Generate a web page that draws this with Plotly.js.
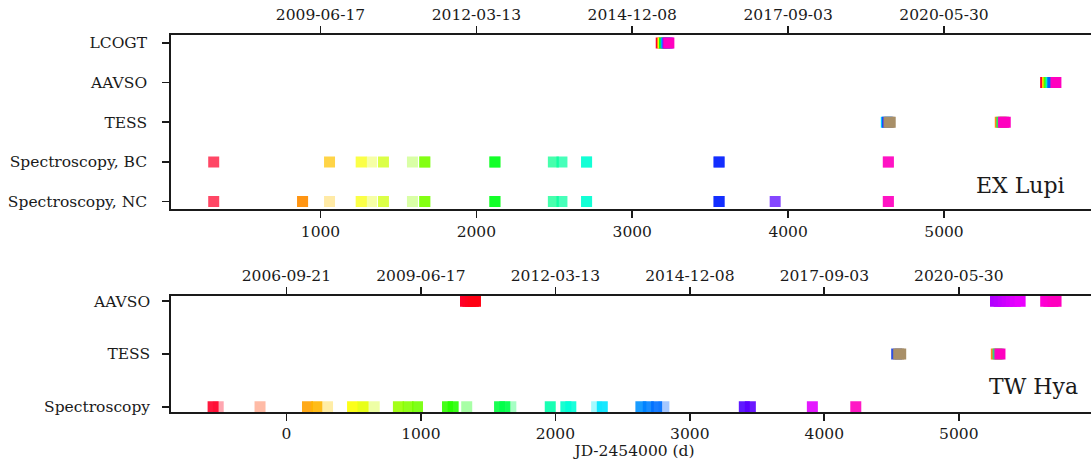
<!DOCTYPE html>
<html>
<head>
<meta charset="utf-8">
<script src="https://cdn.plot.ly/plotly-3.0.1.min.js"></script>
<style>
  html, body { margin: 0; padding: 0; overflow: hidden; background: #fff; }
  #chart { width: 1098px; height: 460px; }
</style>
</head>
<body>
<div id="chart"></div>
<script>
// ---- EX Lupi (JD - 2454000); repeated dates are several spectra on one night ----
const exRows = ['Spectroscopy, NC', 'Spectroscopy, BC', 'TESS', 'AAVSO', 'LCOGT'];
const exSpecNC = [315, 885, 885, 1261, 1404, 1669, 1669, 2119, 2119, 2494, 2549, 2707, 2707,
                  3557, 3557, 3917, 4643, 4643];
const exSpecNCFaint = [1058, 1327, 1590];
const exSpecBC = [315, 1058, 1261, 1404, 1669, 1669, 2119, 2119, 2494, 2549, 2707, 2707,
                  3557, 3557, 4643, 4643];
const exSpecBCFaint = [1327, 1590];
const exLcogt = [3186, 3197, 3207, 3218, 3229, 3235];
const exAavso = [5652, 5664, 5675, 5687, 5698, 5718];
const exTess = [4630, 4638, 4647, 4655, 5361, 5371, 5382, 5393];
const exTessColors = ['#00c8ff', '#2040ff', '#a88f68', '#a88f68', '#ff8c1a', '#30e060', '#ff00bf', '#ff00bf'];

// ---- TW Hya (JD - 2454000) ----
const twRows = ['Spectroscopy', 'TESS', 'AAVSO'];
const twSpec = [-545, 157, 226, 492, 571, 833, 905, 975, 1198, 1240, 1585, 1624, 1962, 2078, 2115,
                2349, 2636, 2691, 2753, 3405, 3450, 3911, 4234];
const twSpecFaint = [-507, -196, 306, 653, 1341, 1669, 2307, 2807];
const twAavso = [1332, 1350, 1370, 1390, 1406, 5273, 5300, 5330, 5360, 5390, 5420, 5456,
                 5646, 5670, 5700, 5723];
const twTess = [4538, 4553, 4568, 5279, 5292, 5306];
const twTessColors = ['#3050e0', '#a88f68', '#a88f68', '#ff8c1a', '#30d080', '#ff00bf'];

// ---- axis ticks ----
const exTicks = [1000, 2000, 3000, 4000, 5000];
const exDates = ['2009-06-17', '2012-03-13', '2014-12-08', '2017-09-03', '2020-05-30'];
const twTicks = [0, 1000, 2000, 3000, 4000, 5000];
const twDates = ['2006-09-21', '2009-06-17', '2012-03-13', '2014-12-08', '2017-09-03', '2020-05-30'];

// gist_rainbow colour map
const RAINBOW = [
  [0.000, [255, 0, 41]], [0.030, [255, 0, 0]], [0.215, [255, 255, 0]], [0.400, [0, 255, 0]],
  [0.586, [0, 255, 255]], [0.770, [0, 0, 255]], [0.954, [255, 0, 255]], [1.000, [255, 0, 191]]
];
function rainbow(t) {
  t = Math.max(0, Math.min(1, t));
  for (let i = 1; i < RAINBOW.length; i++) {
    const [t1, c1] = RAINBOW[i], [t0, c0] = RAINBOW[i - 1];
    if (t <= t1) {
      const f = (t - t0) / (t1 - t0);
      const c = c0.map((v, k) => Math.round(v + f * (c1[k] - v)));
      return 'rgb(' + c.join(',') + ')';
    }
  }
  return 'rgb(255,0,191)';
}
// colour each epoch by its position in the time span of its own series
function timeColours(dates, all) {
  const lo = Math.min(...all), hi = Math.max(...all);
  return dates.map(d => rainbow((d - lo) / (hi - lo)));
}

const SIZE = 11;
function marks(x, row, colors, opacity, xa, ya) {
  return {
    type: 'scatter', mode: 'markers', x: x, y: x.map(() => row),
    xaxis: xa, yaxis: ya, hoverinfo: 'skip', showlegend: false,
    marker: { symbol: 'square', size: SIZE, color: colors, opacity: opacity, line: { width: 0 } }
  };
}

const exNCAll = exSpecNC.concat(exSpecNCFaint);
const exBCAll = exSpecBC.concat(exSpecBCFaint);
const twSpecAll = twSpec.concat(twSpecFaint);

const traces = [
  marks(exSpecNCFaint, 0, timeColours(exSpecNCFaint, exNCAll), 0.35, 'x', 'y'),
  marks(exSpecNC, 0, timeColours(exSpecNC, exNCAll), 0.72, 'x', 'y'),
  marks(exSpecBCFaint, 1, timeColours(exSpecBCFaint, exBCAll), 0.35, 'x', 'y'),
  marks(exSpecBC, 1, timeColours(exSpecBC, exBCAll), 0.72, 'x', 'y'),
  marks(exTess, 2, exTessColors, 1, 'x', 'y'),
  marks(exAavso, 3, timeColours(exAavso, exAavso), 1, 'x', 'y'),
  marks(exLcogt, 4, timeColours(exLcogt, exLcogt), 1, 'x', 'y'),
  { type: 'scatter', x: [], y: [], xaxis: 'x2', yaxis: 'y', showlegend: false, hoverinfo: 'skip' },

  marks(twSpecFaint, 0, timeColours(twSpecFaint, twSpecAll), 0.35, 'x3', 'y2'),
  marks(twSpec, 0, timeColours(twSpec, twSpecAll), 0.9, 'x3', 'y2'),
  marks(twTess, 1, twTessColors, 1, 'x3', 'y2'),
  marks(twAavso, 2, timeColours(twAavso, twAavso), 1, 'x3', 'y2'),
  { type: 'scatter', x: [], y: [], xaxis: 'x4', yaxis: 'y2', showlegend: false, hoverinfo: 'skip' }
];

const INK = '#1a1a1a';
const tickFont = { family: 'DejaVu Serif', size: 15.5, color: INK };
const common = {
  ticks: 'outside', ticklen: 7, tickwidth: 1.7, tickcolor: INK,
  showline: true, linecolor: INK, linewidth: 1.8,
  showgrid: false, zeroline: false, tickfont: tickFont, fixedrange: true
};
const exRange = [41, 5988];
const twRange = [-858, 6035];

const layout = {
  width: 1098, height: 460,
  margin: { l: 171, r: 0, t: 0, b: 0 },
  paper_bgcolor: '#fff', plot_bgcolor: '#fff',
  font: { family: 'DejaVu Serif', color: INK },
  xaxis: Object.assign({}, common, {
    domain: [0, 1], anchor: 'y', range: exRange,
    tickvals: exTicks, ticktext: exTicks.map(String)
  }),
  xaxis2: Object.assign({}, common, {
    overlaying: 'x', side: 'top', anchor: 'y', range: exRange,
    tickvals: exTicks, ticktext: exDates
  }),
  yaxis: Object.assign({}, common, {
    domain: [0.5446, 0.9239], anchor: 'x', range: [-0.2, 4.2],
    tickvals: exRows.map((_, i) => i), ticktext: exRows, ticklabelstandoff: 12
  }),
  xaxis3: Object.assign({}, common, {
    domain: [0, 1], anchor: 'y2', range: twRange,
    tickvals: twTicks, ticktext: twTicks.map(String),
    title: { text: 'JD-2454000 (d)', font: tickFont, standoff: 0 }
  }),
  xaxis4: Object.assign({}, common, {
    overlaying: 'x3', side: 'top', anchor: 'y2', range: twRange,
    tickvals: twTicks, ticktext: twDates
  }),
  yaxis2: Object.assign({}, common, {
    domain: [0.1043, 0.3565], anchor: 'x3', range: [-0.1, 2.1],
    tickvals: twRows.map((_, i) => i), ticktext: twRows, ticklabelstandoff: 9
  }),
  annotations: [
    { text: 'EX Lupi', x: 5190, y: 0.4, xref: 'x', yref: 'y', xanchor: 'left', yanchor: 'middle',
      showarrow: false, font: { family: 'DejaVu Serif', size: 22, color: INK } },
    { text: 'TW Hya', x: 5206, y: 0.384, xref: 'x3', yref: 'y2', xanchor: 'left', yanchor: 'middle',
      showarrow: false, font: { family: 'DejaVu Serif', size: 22, color: INK } }
  ]
};

Plotly.newPlot('chart', traces, layout, { staticPlot: true, displayModeBar: false });
</script>
</body>
</html>
